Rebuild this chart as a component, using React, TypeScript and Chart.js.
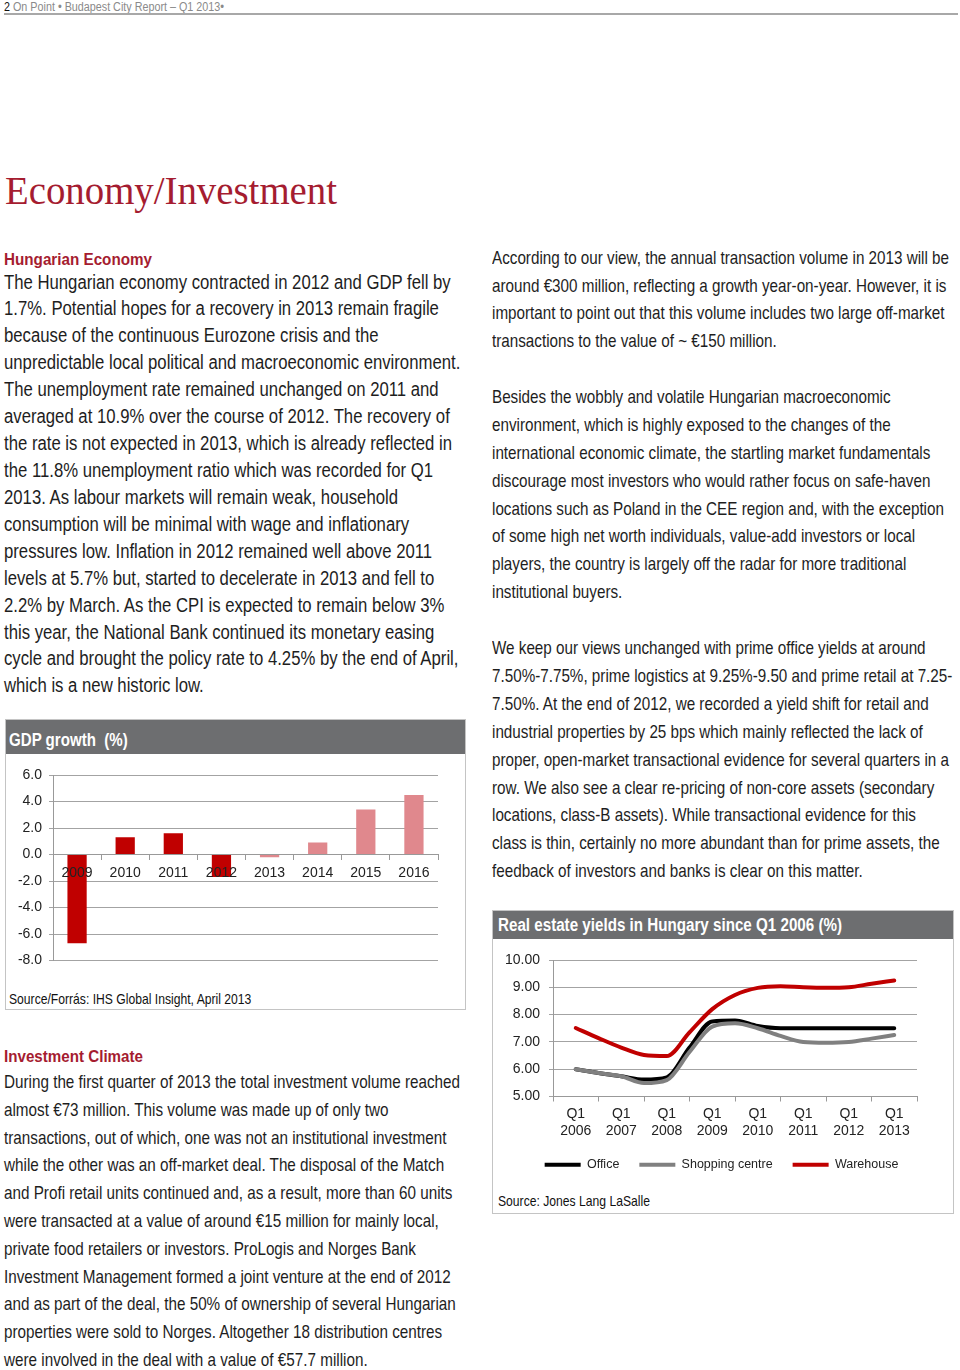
import React, { useEffect, useRef } from 'react';
import { Chart, registerables } from 'chart.js';
Chart.register(...registerables);

const FAMILY = "'Liberation Sans Narrow', 'Arial Narrow', 'Liberation Sans', Arial, sans-serif";
const SERIF = "'Liberation Serif', 'Times New Roman', serif";
const RED = '#a51c30';
const TEXT = '#1e1e1e';
const BAR_GRAY = '#6d6e70';

// ---------- GDP data ----------
const gdpYears = ['2009', '2010', '2011', '2012', '2013', '2014', '2015', '2016'];
const gdpValues = [-6.7, 1.3, 1.6, -1.7, -0.2, 0.9, 3.4, 4.5];
const gdpForecast = [false, false, false, false, true, true, true, true];
const gdpTicks = { min: -8, max: 6, step: 2 };

// ---------- Yield data ----------
const yieldYears = [2006, 2007, 2008, 2009, 2010, 2011, 2012, 2013];
const yieldTimes = [2006, 2006.5, 2007, 2007.5, 2008, 2008.5, 2009, 2009.5, 2010, 2010.5, 2011, 2011.5, 2012, 2012.5, 2013];
const officeYield = [6.0, 5.86, 5.74, 5.62, 5.7, 6.79, 7.75, 7.78, 7.58, 7.5, 7.5, 7.5, 7.5, 7.5, 7.5];
const shoppingYield = [6.0, 5.86, 5.74, 5.49, 5.6, 6.63, 7.56, 7.68, 7.5, 7.22, 7.0, 6.97, 7.0, 7.12, 7.25];
const warehouseYield = [7.51, 7.14, 6.79, 6.52, 6.48, 7.35, 8.2, 8.72, 8.98, 9.04, 9.0, 8.98, 9.0, 9.13, 9.25];
const yieldTicks = { min: 5, max: 10, step: 1 };

// ---------- Text ----------
const econLines = [
  'The Hungarian economy contracted in 2012 and GDP fell by',
  '1.7%. Potential hopes for a recovery in 2013 remain fragile',
  'because of the continuous Eurozone crisis and the',
  'unpredictable local political and macroeconomic environment.',
  'The unemployment rate remained unchanged on 2011 and',
  'averaged at 10.9% over the course of 2012. The recovery of',
  'the rate is not expected in 2013, which is already reflected in',
  'the 11.8% unemployment ratio which was recorded for Q1',
  '2013. As labour markets will remain weak, household',
  'consumption will be minimal with wage and inflationary',
  'pressures low. Inflation in 2012 remained well above 2011',
  'levels at 5.7% but, started to decelerate in 2013 and fell to',
  '2.2% by March. As the CPI is expected to remain below 3%',
  'this year, the National Bank continued its monetary easing',
  'cycle and brought the policy rate to 4.25% by the end of April,',
  'which is a new historic low.',
];
const investLines = [
  'During the first quarter of 2013 the total investment volume reached',
  'almost €73 million. This volume was made up of only two',
  'transactions, out of which, one was not an institutional investment',
  'while the other was an off-market deal. The disposal of the Match',
  'and Profi retail units continued and, as a result, more than 60 units',
  'were transacted at a value of around €15 million for mainly local,',
  'private food retailers or investors. ProLogis and Norges Bank',
  'Investment Management formed a joint venture at the end of 2012',
  'and as part of the deal, the 50% of ownership of several Hungarian',
  'properties were sold to Norges. Altogether 18 distribution centres',
  'were involved in the deal with a value of €57.7 million.',
];
const right1 = [
  'According to our view, the annual transaction volume in 2013 will be',
  'around €300 million, reflecting a growth year-on-year. However, it is',
  'important to point out that this volume includes two large off-market',
  'transactions to the value of ~ €150 million.',
];
const right2 = [
  'Besides the wobbly and volatile Hungarian macroeconomic',
  'environment, which is highly exposed to the changes of the',
  'international economic climate, the startling market fundamentals',
  'discourage most investors who would rather focus on safe-haven',
  'locations such as Poland in the CEE region and, with the exception',
  'of some high net worth individuals, value-add investors or local',
  'players, the country is largely off the radar for more traditional',
  'institutional buyers.',
];
const right3 = [
  'We keep our views unchanged with prime office yields at around',
  '7.50%-7.75%, prime logistics at 9.25%-9.50 and prime retail at 7.25-',
  '7.50%. At the end of 2012, we recorded a yield shift for retail and',
  'industrial properties by 25 bps which mainly reflected the lack of',
  'proper, open-market transactional evidence for several quarters in a',
  'row. We also see a clear re-pricing of non-core assets (secondary',
  'locations, class-B assets). While transactional evidence for this',
  'class is thin, certainly no more abundant than for prime assets, the',
  'feedback of investors and banks is clear on this matter.',
];

// ---------- helpers ----------
let mctx: CanvasRenderingContext2D | null = null;
function measure(text: string, font: string): number {
  if (!mctx) mctx = document.createElement('canvas').getContext('2d');
  if (!mctx) return 0;
  mctx.font = font;
  return mctx.measureText(text).width;
}
function fit(text: string, font: string, target: number) {
  const w = measure(text, font);
  return w > 0 ? target / w : 1;
}

function Para(props: { left: number; top: number; step: number; size: number; weight?: number; color?: string; lines: string[]; refText?: string; refWidth: number; family?: string }) {
  const { left, top, step, size, weight = 400, color = TEXT, lines, refText, refWidth, family = FAMILY } = props;
  const font = `${weight} ${size}px ${family}`;
  const s = fit(refText || lines[0], font, refWidth);
  return (
    <div style={{ position: 'absolute', left, top: top - step / 2, transform: `scaleX(${s})`, transformOrigin: '0 0', font, color, whiteSpace: 'nowrap' }}>
      {lines.map((l, i) => (
        <div key={i} style={{ height: step, lineHeight: `${step}px` }}>{l}</div>
      ))}
    </div>
  );
}

function GdpChart() {
  const ref = useRef<HTMLCanvasElement>(null);
  useEffect(() => {
    const font = { family: FAMILY, size: 14 };
    const chart = new Chart(ref.current!, {
      type: 'bar',
      data: {
        labels: gdpYears,
        datasets: [{
          data: gdpValues,
          backgroundColor: gdpForecast.map(f => (f ? '#e0888d' : '#c00000')),
          barPercentage: 0.4,
          categoryPercentage: 1,
        }],
      },
      options: {
        responsive: false,
        animation: false,
        events: [],
        layout: { padding: { top: 19, right: 27, bottom: 11, left: 0 } },
        plugins: { legend: { display: false }, tooltip: { enabled: false } },
        scales: {
          x: {
            position: { y: 0 } as any,
            grid: { drawOnChartArea: false, drawTicks: true, tickLength: 5, color: '#999', offset: true },
            border: { color: '#999' },
            ticks: { font, color: '#222', padding: 5, z: 1, maxRotation: 0, autoSkip: false },
          },
          y: {
            min: gdpTicks.min,
            max: gdpTicks.max,
            ticks: { stepSize: gdpTicks.step, font, color: '#222', padding: 7, callback: (v: any) => Number(v).toFixed(1) },
            grid: { color: '#a3a3a3', tickLength: 4 },
            border: { color: '#999' },
            afterFit: (s: any) => { s.width = 47; },
          },
        },
      },
    });
    return () => chart.destroy();
  }, []);
  return <canvas ref={ref} width={459} height={220} style={{ position: 'absolute', left: 6, top: 756, width: 459, height: 220 }} />;
}

const legendShift = {
  id: 'legendShift',
  afterLayout(c: any) {
    if (c.legend) {
      c.legend.left += 16;
      c.legend.right += 16;
    }
  },
};

function YieldChart() {
  const ref = useRef<HTMLCanvasElement>(null);
  useEffect(() => {
    const font = { family: FAMILY, size: 14 };
    const mk = (label: string, vals: number[], color: string, order: number) => ({
      label,
      data: yieldTimes.map((t, i) => ({ x: t, y: vals[i] })),
      xAxisID: 'xl',
      yAxisID: 'y',
      borderColor: color,
      backgroundColor: color,
      borderWidth: 4,
      pointRadius: 0,
      cubicInterpolationMode: 'monotone' as const,
      borderCapStyle: 'round' as const,
      borderJoinStyle: 'round' as const,
      order,
    });
    const chart = new Chart(ref.current!, {
      type: 'line',
      data: {
        labels: yieldYears.map(String),
        datasets: [
          mk('Office', officeYield, '#000000', 3),
          mk('Shopping centre', shoppingYield, '#808080', 2),
          mk('Warehouse', warehouseYield, '#c00000', 1),
        ],
      },
      plugins: [legendShift],
      options: {
        responsive: false,
        animation: false,
        events: [],
        layout: { padding: { top: 19, right: 36, bottom: 4, left: 0 } },
        plugins: {
          tooltip: { enabled: false },
          legend: {
            position: 'bottom',
            reverse: true,
            labels: { usePointStyle: true, pointStyle: 'line', pointStyleWidth: 36, font: { family: FAMILY, size: 12.5 }, color: '#222', padding: 20 },
          },
        },
        scales: {
          x: {
            type: 'category',
            offset: true,
            bounds: 'ticks',
            grid: { drawOnChartArea: false, drawTicks: true, tickLength: 5, color: '#999', offset: true },
            border: { color: '#999' },
            ticks: { font, color: '#222', padding: 4, maxRotation: 0, autoSkip: false, callback: (v: any) => ['Q1', String(yieldYears[v])] },
            afterFit: (s: any) => { s.height = 42; },
          },
          xl: { type: 'linear', display: false, min: yieldYears[0] - 0.5, max: yieldYears[yieldYears.length - 1] + 0.5 },
          y: {
            min: yieldTicks.min,
            max: yieldTicks.max,
            ticks: { stepSize: yieldTicks.step, font, color: '#222', padding: 9, callback: (v: any) => Number(v).toFixed(2) },
            grid: { color: '#a3a3a3', tickLength: 4 },
            border: { color: '#999' },
            afterFit: (s: any) => { s.width = 59; },
          },
        },
      },
    });
    return () => chart.destroy();
  }, []);
  return <canvas ref={ref} width={459} height={244} style={{ position: 'absolute', left: 494, top: 941, width: 459, height: 244 }} />;
}

function FitLine(props: { left: number; center: number; size: number; weight?: number; color?: string; text: string; width: number; family?: string; lh?: number; children?: any }) {
  const { left, center, size, weight = 400, color = TEXT, text, width, family = FAMILY } = props;
  const font = `${weight} ${size}px ${family}`;
  const s = fit(text, font, width);
  const lh = props.lh || Math.round(size * 1.4);
  return (
    <div style={{ position: 'absolute', left, top: center - lh / 2, height: lh, lineHeight: `${lh}px`, transform: `scaleX(${s})`, transformOrigin: '0 0', font, color, whiteSpace: 'nowrap' }}>
      {props.children || text}
    </div>
  );
}

export default function App() {
  return (
    <div style={{ position: 'absolute', left: 0, top: 0, width: 960, height: 1370, background: '#fff', overflow: 'hidden', fontFamily: FAMILY }}>
      {/* Running header */}
      <FitLine left={4} center={6.5} size={12} lh={13} color="#8a8a8a" text="2 On Point • Budapest City Report – Q1 2013•" width={220}>
        <span style={{ color: '#111' }}>2</span> On Point • Budapest City Report – Q1 2013•
      </FitLine>
      <div style={{ position: 'absolute', left: 4, top: 13, width: 954, height: 2, background: '#a8a8a8' }} />

      {/* Title */}
      <div style={{ position: 'absolute', left: 5, top: 171, font: `400 40px ${SERIF}`, lineHeight: '40px', color: RED, whiteSpace: 'nowrap', transformOrigin: '0 0', transform: `scaleX(${fit('Economy/Investment', `400 40px ${SERIF}`, 332)})` }}>
        Economy/Investment
      </div>

      {/* Left column */}
      <FitLine left={4} center={262} size={17} weight={700} color={RED} text="Hungarian Economy" width={148} />
      <Para left={4} top={282} step={26.93} size={19.5} lines={econLines} refWidth={447} />

      {/* GDP chart box */}
      <div style={{ position: 'absolute', left: 5, top: 719, width: 459, height: 289, border: '1px solid #c4c4c4' }} />
      <div style={{ position: 'absolute', left: 6, top: 720, width: 459, height: 34, background: BAR_GRAY }} />
      <FitLine left={9} center={742} size={18} weight={700} color="#ffffff" text="GDP growth  (%)" width={119}>GDP growth&nbsp;&nbsp;(%)</FitLine>
      <GdpChart />
      <FitLine left={9} center={1000} size={15} color="#111" text="Source/Forrás: IHS Global Insight, April 2013" width={243} />

      <FitLine left={4} center={1059} size={17} weight={700} color={RED} text="Investment Climate" width={139} />
      <Para left={4} top={1082} step={27.8} size={18.5} lines={investLines} refWidth={456} />

      {/* Right column */}
      <Para left={492} top={258} step={27.67} size={18.5} lines={right1} refWidth={457} />
      <Para left={492} top={397} step={27.86} size={18.5} lines={right2} refText={right1[0]} refWidth={457} />
      <Para left={492} top={648} step={27.9} size={18.5} lines={right3} refText={right1[0]} refWidth={457} />

      {/* Yield chart box */}
      <div style={{ position: 'absolute', left: 492, top: 910, width: 460, height: 302, border: '1px solid #c4c4c4' }} />
      <div style={{ position: 'absolute', left: 493, top: 911, width: 460, height: 28, background: BAR_GRAY }} />
      <FitLine left={498} center={927} size={18} weight={700} color="#ffffff" text="Real estate yields in Hungary since Q1 2006 (%)" width={344} />
      <YieldChart />
      <FitLine left={498} center={1202} size={15} color="#111" text="Source: Jones Lang LaSalle" width={152} />
    </div>
  );
}
